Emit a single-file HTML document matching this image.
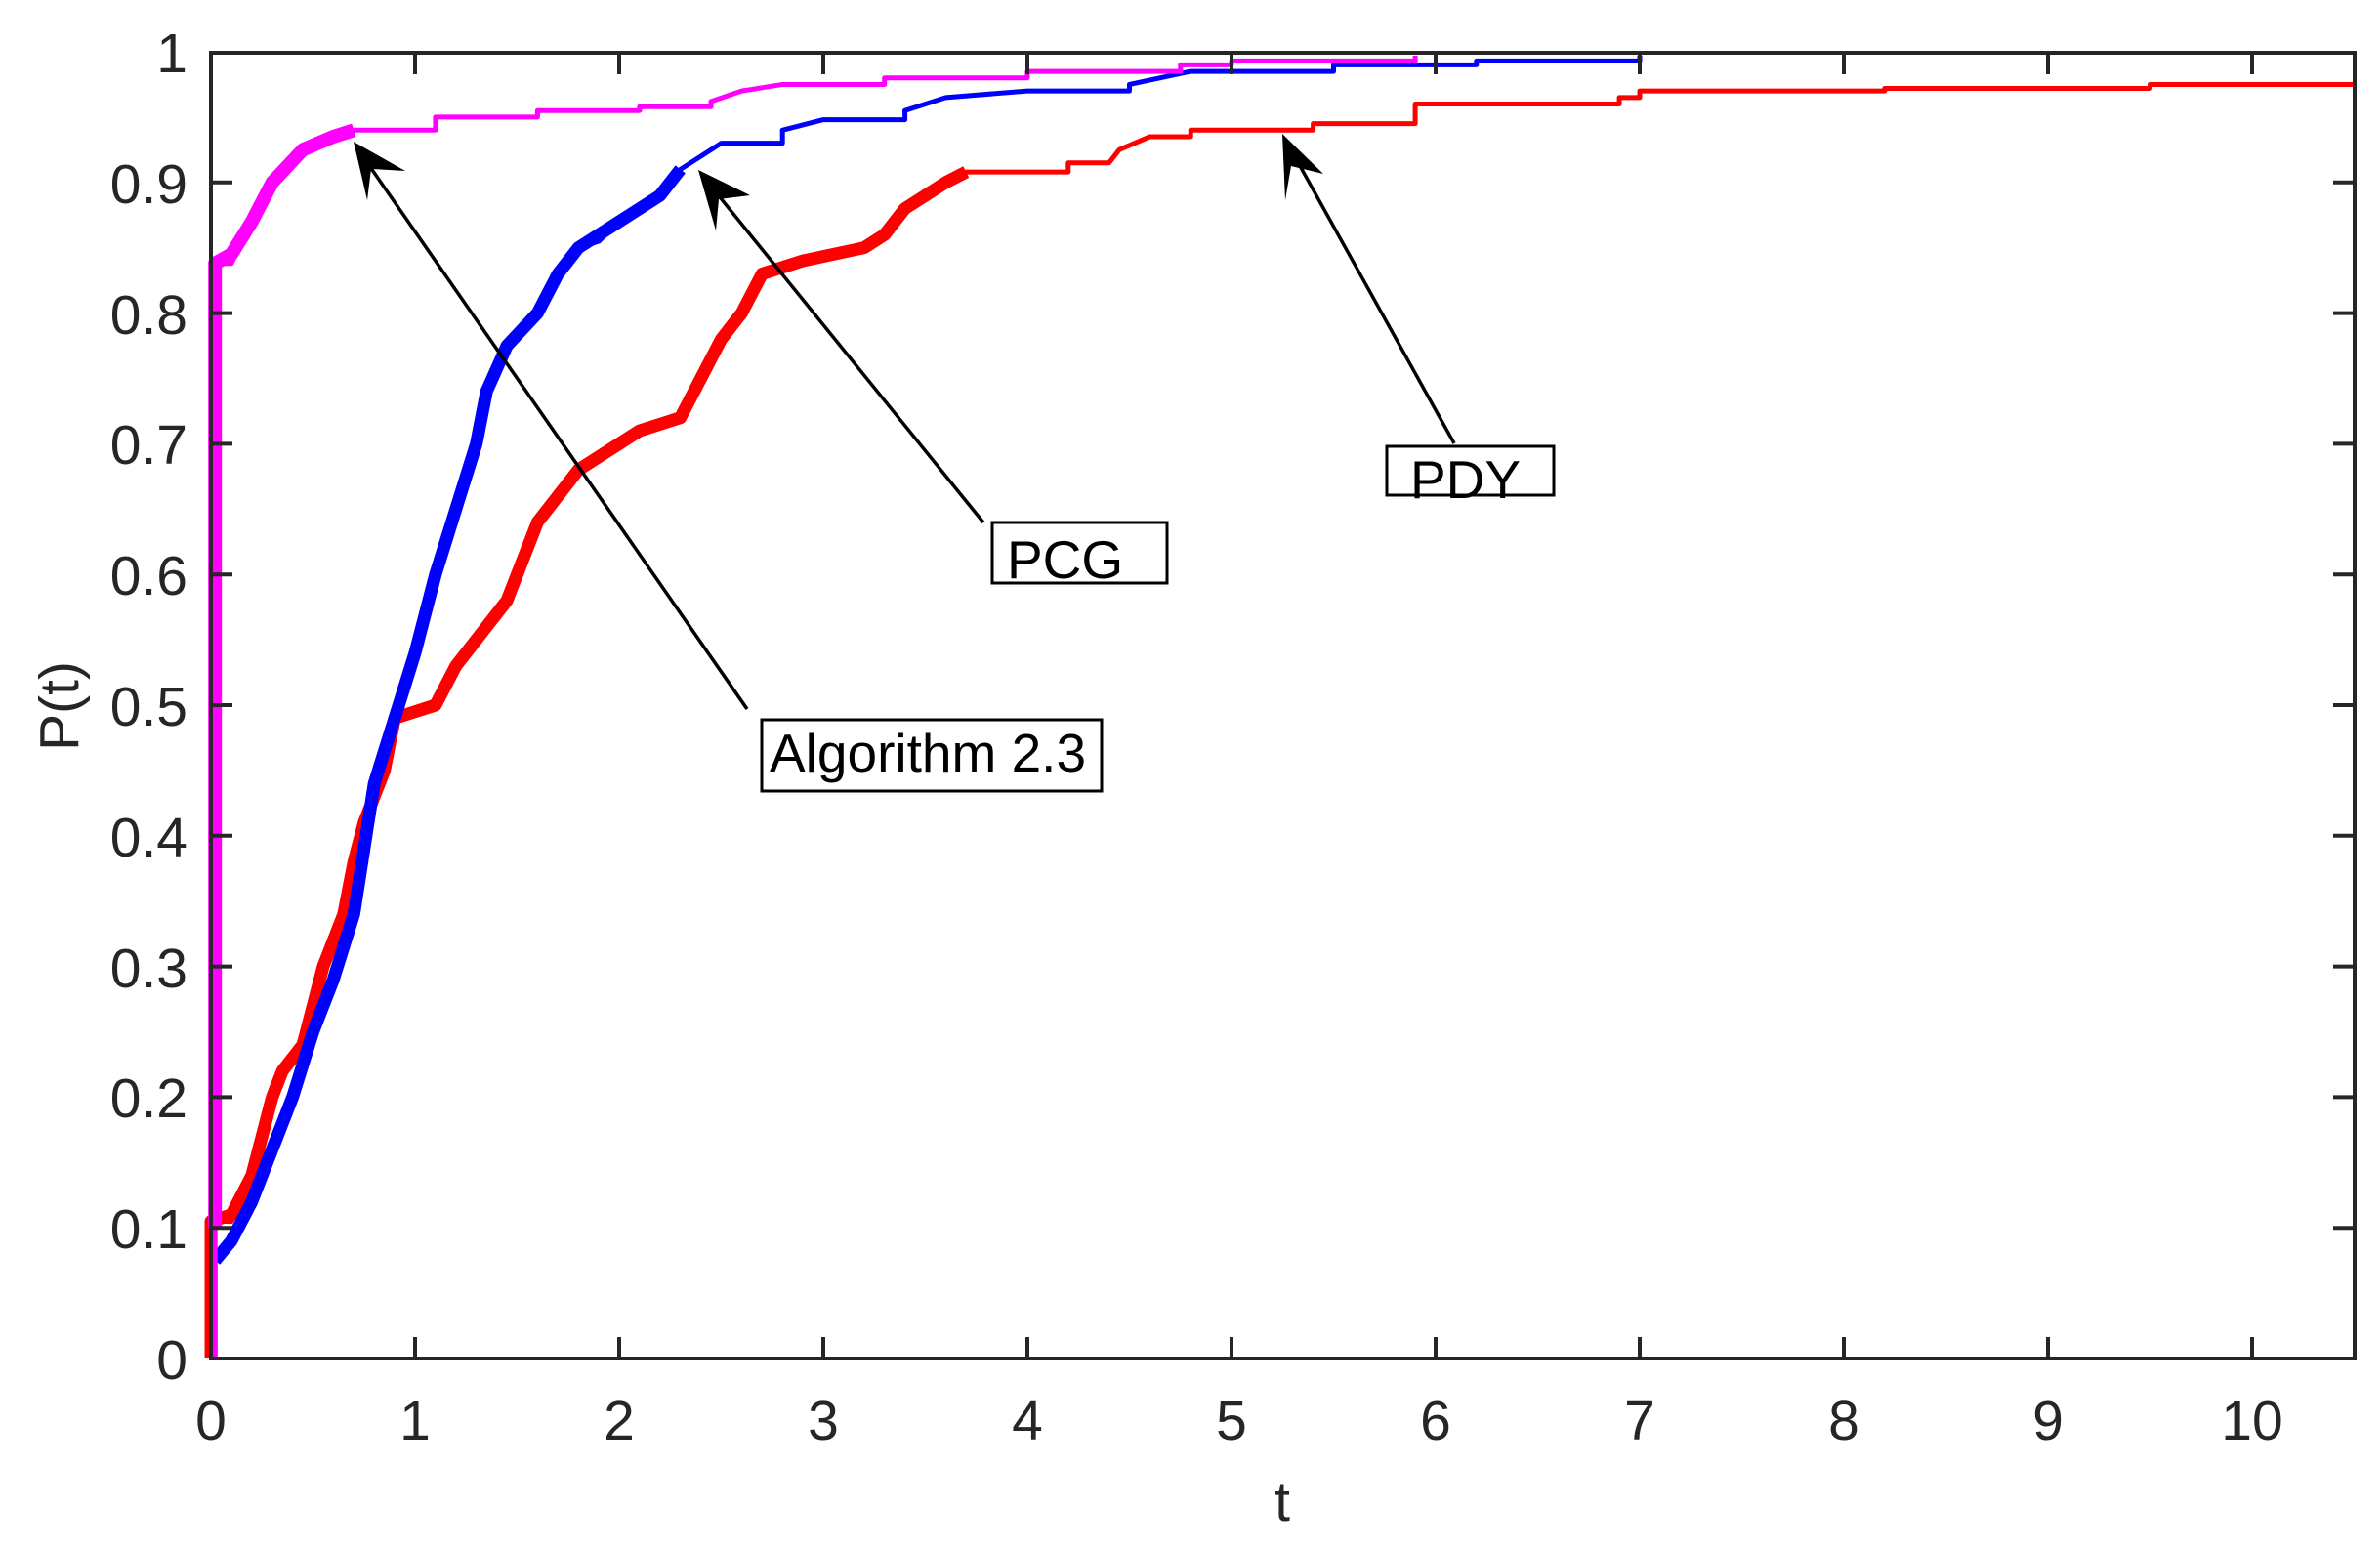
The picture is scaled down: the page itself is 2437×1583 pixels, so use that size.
<!DOCTYPE html>
<html><head><style>html,body{margin:0;padding:0;background:#fff}</style></head><body>
<svg width="2437" height="1578" xmlns="http://www.w3.org/2000/svg" font-family="Liberation Sans, sans-serif">
<rect width="2437" height="1578" fill="#fff"/>
<g transform="translate(216,1391) scale(209,-1338)" fill="none" stroke-linejoin="round">
<polyline vector-effect="non-scaling-stroke" stroke="#ff0000" stroke-width="5" points="0,0 0,0.105 0.1,0.105 0.2,0.14 0.3,0.2 0.35,0.22 0.45,0.24 0.5,0.27 0.55,0.3 0.65,0.34 0.7,0.38 0.75,0.41 0.85,0.45 0.9,0.49 1.1,0.5 1.2,0.53 1.3,0.55 1.4,0.57 1.45,0.58 1.55,0.62 1.6,0.64 1.7,0.66 1.8,0.68 1.9,0.69 2,0.7 2.1,0.71 2.3,0.72 2.4,0.75 2.5,0.78 2.6,0.8 2.7,0.83 2.9,0.84 3.2,0.85 3.3,0.86 3.4,0.88 3.6,0.9 3.7,0.908 4.2,0.908 4.2,0.915 4.4,0.915 4.45,0.925 4.6,0.935 4.8,0.935 4.8,0.94 5.4,0.94 5.4,0.945 5.9,0.945 5.9,0.96 6.9,0.96 6.9,0.965 7,0.965 7,0.97 8.2,0.97 8.2,0.972 9.5,0.972 9.5,0.975 10.5,0.975"/>
<polyline vector-effect="non-scaling-stroke" stroke="#ff0000" stroke-width="13" points="0,0 0,0.105 0.1,0.11 0.2,0.14 0.3,0.2 0.35,0.22 0.45,0.24 0.5,0.27 0.55,0.3 0.65,0.34 0.7,0.38 0.75,0.41 0.85,0.45 0.9,0.49 1.0,0.495 1.1,0.5 1.2,0.53 1.3,0.55 1.4,0.57 1.45,0.58 1.55,0.62 1.6,0.64 1.7,0.66 1.8,0.68 1.9,0.69 2,0.7 2.1,0.71 2.3,0.72 2.4,0.75 2.5,0.78 2.6,0.8 2.7,0.83 2.9,0.84 3.2,0.85 3.3,0.86 3.4,0.88 3.6,0.9 3.7,0.908"/>
<polyline vector-effect="non-scaling-stroke" stroke="#0000ff" stroke-width="5" points="0.02,0 0.02,0.075 0.1,0.09 0.2,0.12 0.3,0.16 0.4,0.2 0.5,0.25 0.6,0.29 0.7,0.34 0.75,0.39 0.8,0.44 0.9,0.49 1,0.54 1.1,0.6 1.2,0.65 1.3,0.7 1.35,0.74 1.45,0.775 1.6,0.8 1.7,0.83 1.8,0.85 1.9,0.855 2,0.87 2.2,0.89 2.3,0.91 2.5,0.93 2.8,0.93 2.8,0.94 3,0.948 3.4,0.948 3.4,0.955 3.6,0.965 4,0.97 4.5,0.97 4.5,0.975 4.8,0.985 5.5,0.985 5.5,0.99 6.2,0.99 6.2,0.993 7,0.993 7,0.997"/>
<polyline vector-effect="non-scaling-stroke" stroke="#0000ff" stroke-width="13" points="0.02,0.075 0.1,0.09 0.2,0.12 0.3,0.16 0.4,0.2 0.5,0.25 0.6,0.29 0.7,0.34 0.75,0.39 0.8,0.44 0.9,0.49 1,0.54 1.1,0.6 1.2,0.65 1.3,0.7 1.35,0.74 1.45,0.775 1.6,0.8 1.7,0.83 1.8,0.85 2,0.87 2.2,0.89 2.3,0.91"/>
<polyline vector-effect="non-scaling-stroke" stroke="#ff00ff" stroke-width="5" points="0.02,0 0.02,0.838 0.1,0.838 0.2,0.87 0.3,0.9 0.45,0.925 0.6,0.935 0.7,0.94 1.1,0.94 1.1,0.95 1.6,0.95 1.6,0.955 2.1,0.955 2.1,0.958 2.45,0.958 2.45,0.962 2.6,0.97 2.8,0.975 3.3,0.975 3.3,0.98 4,0.98 4,0.985 4.75,0.985 4.75,0.99 5,0.99 5,0.993 5.9,0.993 5.9,0.997"/>
<polyline vector-effect="non-scaling-stroke" stroke="#ff00ff" stroke-width="14" points="0.02,0.1 0.02,0.838 0.1,0.845 0.2,0.87 0.3,0.9 0.45,0.925 0.6,0.935 0.7,0.94"/>
</g>
<g stroke="#262626" stroke-width="4" fill="none">
<rect x="216" y="54" width="2195" height="1337"/>
<path d="M425,1391v-22M634,1391v-22M843,1391v-22M1052,1391v-22M1261,1391v-22M1470,1391v-22M1679,1391v-22M1888,1391v-22M2097,1391v-22M2306,1391v-22M425,54v22M634,54v22M843,54v22M1052,54v22M1261,54v22M1470,54v22M1679,54v22M1888,54v22M2097,54v22M2306,54v22"/>
<path d="M216,1257.2h22M216,1123.4h22M216,989.6h22M216,855.8h22M216,722h22M216,588.2h22M216,454.4h22M216,320.6h22M216,186.8h22M2411,1257.2h-22M2411,1123.4h-22M2411,989.6h-22M2411,855.8h-22M2411,722h-22M2411,588.2h-22M2411,454.4h-22M2411,320.6h-22M2411,186.8h-22"/>
</g>
<g fill="#262626" font-size="57" text-anchor="end">
<text x="192" y="1412">0</text><text x="192" y="1278">0.1</text><text x="192" y="1144">0.2</text><text x="192" y="1011">0.3</text><text x="192" y="877">0.4</text><text x="192" y="743">0.5</text><text x="192" y="609">0.6</text><text x="192" y="475">0.7</text><text x="192" y="342">0.8</text><text x="192" y="208">0.9</text><text x="192" y="74">1</text>
</g>
<g fill="#262626" font-size="57" text-anchor="middle">
<text x="216" y="1474">0</text><text x="425" y="1474">1</text><text x="634" y="1474">2</text><text x="843" y="1474">3</text><text x="1052" y="1474">4</text><text x="1261" y="1474">5</text><text x="1470" y="1474">6</text><text x="1679" y="1474">7</text><text x="1888" y="1474">8</text><text x="2097" y="1474">9</text><text x="2306" y="1474">10</text>
<text x="1313" y="1557">t</text>
<text transform="translate(80,723) rotate(-90)">P(t)</text>
</g>
<g stroke="#000" stroke-width="3.5">
<line x1="765" y1="726" x2="370" y2="158"/>
<line x1="1007" y1="535" x2="725" y2="187"/>
<line x1="1489" y1="454" x2="1320" y2="150"/>
</g>
<g fill="#000">
<polygon points="362,145 415,175 380,173 376,205"/>
<polygon points="715,174 768,200 736,204 733,236"/>
<polygon points="1313,137 1355,178 1322,170 1316,205"/>
</g>
<g fill="#fff" stroke="#000" stroke-width="3">
<rect x="780" y="737" width="348" height="73"/>
<rect x="1016" y="535" width="179" height="62"/>
<rect x="1420" y="457" width="171" height="50"/>
</g>
<g fill="#000" font-size="55">
<text x="788" y="790">Algorithm 2.3</text>
<text x="1031" y="592">PCG</text>
<text x="1444" y="510">PDY</text>
</g>
</svg>
</body></html>
